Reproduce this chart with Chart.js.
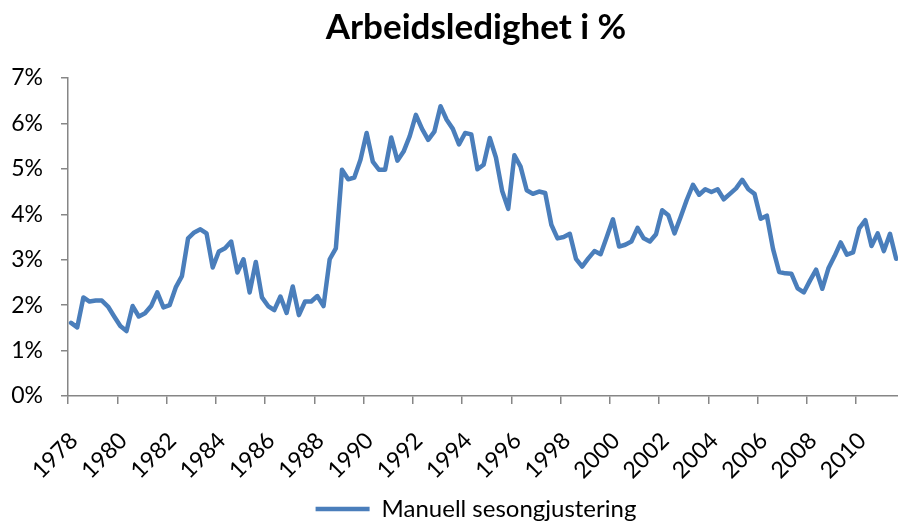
<!DOCTYPE html>
<html>
<head>
<meta charset="utf-8">
<script src="https://cdn.jsdelivr.net/npm/chart.js"></script>
<style>
  html, body { margin: 0; padding: 0; background: #fff; }
  #wrap { width: 898px; height: 531px; }
</style>
</head>
<body>
<div id="wrap"><canvas id="chart" width="898" height="531"></canvas></div>
<script>
// Arbeidsledighet, kvartalsvis fra 1978K1
const startYear = 1978;
const seriesLabel = "Manuell sesongjustering";
const values = [
    1.61, 1.51, 2.17, 2.08, 2.10, 2.10, 1.97, 1.75, 1.54, 1.43,
    1.98, 1.75, 1.82, 1.98, 2.28, 1.95, 2.00, 2.39, 2.64, 3.47,
    3.60, 3.67, 3.58, 2.83, 3.18, 3.25, 3.40, 2.72, 3.01, 2.28,
    2.95, 2.17, 1.98, 1.89, 2.19, 1.83, 2.41, 1.78, 2.08, 2.08,
    2.20, 1.98, 3.01, 3.25, 4.98, 4.77, 4.81, 5.20, 5.79, 5.16,
    4.98, 4.98, 5.69, 5.18, 5.38, 5.72, 6.19, 5.88, 5.64, 5.82,
    6.38, 6.08, 5.88, 5.54, 5.79, 5.76, 4.99, 5.09, 5.68, 5.25,
    4.52, 4.12, 5.30, 5.05, 4.53, 4.45, 4.50, 4.47, 3.77, 3.47,
    3.50, 3.57, 3.02, 2.85, 3.03, 3.19, 3.12, 3.50, 3.89, 3.29,
    3.33, 3.40, 3.70, 3.47, 3.40, 3.56, 4.09, 3.98, 3.58, 3.94,
    4.32, 4.65, 4.43, 4.55, 4.49, 4.55, 4.33, 4.45, 4.57, 4.76,
    4.55, 4.45, 3.90, 3.97, 3.24, 2.73, 2.70, 2.69, 2.37, 2.28,
    2.54, 2.78, 2.36, 2.81, 3.08, 3.38, 3.11, 3.16, 3.69, 3.87,
    3.30, 3.58, 3.19, 3.57, 3.02
];
const yearTicks = [1978, 1980, 1982, 1984, 1986, 1988, 1990, 1992, 1994,
    1996, 1998, 2000, 2002, 2004, 2006, 2008, 2010];
const pctTicks = [0, 1, 2, 3, 4, 5, 6, 7];

const FONT = "Lato, 'Open Sans', sans-serif";
const AXIS = "#868686";
const BLUE = "#4A7EBB";

// Excel-stil: punktene ligger midt i hvert kvartal
const points = values.map((v, i) => ({ x: startYear + (i + 0.5) / 4, y: v }));

// originalen er beskåret til høyre, så tittel og forklaring står litt til høyre for midten
const shiftRight = {
    id: "shiftRight",
    afterLayout(chart) {
        [chart.titleBlock, chart.legend].forEach(b => {
            if (b) { b.left += 27; b.right += 27; }
        });
    }
};

new Chart(document.getElementById("chart"), {
    type: "line",
    data: {
        datasets: [{
            label: seriesLabel,
            data: points,
            borderColor: BLUE,
            backgroundColor: BLUE,
            borderWidth: 4.5,
            borderJoinStyle: "round",
            borderCapStyle: "round",
            pointRadius: 0,
            tension: 0
        }]
    },
    plugins: [shiftRight],
    options: {
        responsive: false,
        animation: false,
        layout: { padding: { left: 0, right: 0, top: 0, bottom: 0 } },
        plugins: {
            title: {
                display: true,
                text: "Arbeidsledighet i %",
                color: "#000",
                font: { family: FONT, size: 35, weight: "bold" },
                padding: { top: 7, bottom: 29 }
            },
            legend: {
                position: "bottom",
                labels: {
                    color: "#000",
                    font: { family: FONT, size: 24 },
                    usePointStyle: true,
                    pointStyle: "line",
                    pointStyleWidth: 54,
                    padding: 3
                }
            },
            tooltip: { enabled: false }
        },
        scales: {
            x: {
                type: "linear",
                min: startYear,
                max: 2011.7,
                afterBuildTicks: s => { s.ticks = yearTicks.map(v => ({ value: v })); },
                afterFit: s => { s.height = 98; s.paddingRight = 0; s.paddingLeft = 0; },
                border: { display: true, color: AXIS, width: 1.5 },
                grid: { display: true, drawOnChartArea: false, drawTicks: true, tickLength: 8, color: AXIS, lineWidth: 1.5 },
                ticks: {
                    autoSkip: false,
                    maxRotation: 45,
                    minRotation: 45,
                    padding: 23,
                    labelOffset: 6,
                    color: "#000",
                    font: { family: FONT, size: 23 },
                    callback: v => String(v)
                }
            },
            y: {
                min: 0,
                max: 7,
                afterBuildTicks: s => { s.ticks = pctTicks.map(v => ({ value: v })); },
                afterFit: s => { s.width = 68; },
                border: { display: true, color: AXIS, width: 1.5 },
                grid: { display: true, drawOnChartArea: false, drawTicks: true, tickLength: 7, color: AXIS, lineWidth: 1.5 },
                ticks: {
                    padding: 18,
                    color: "#000",
                    font: { family: FONT, size: 23 },
                    callback: v => v + "%"
                }
            }
        }
    }
});
</script>
</body>
</html>
